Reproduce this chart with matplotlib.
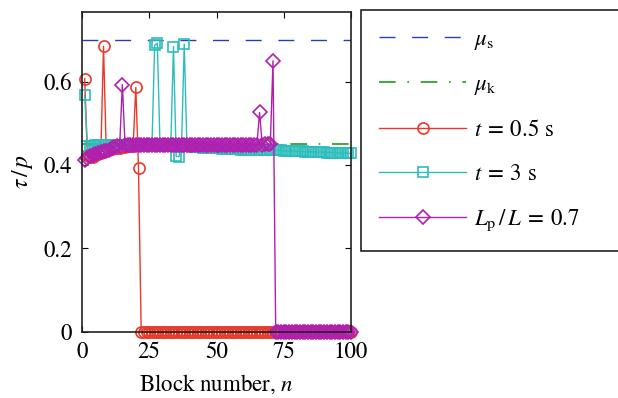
import numpy as np
import matplotlib
matplotlib.use('Agg')
import matplotlib.pyplot as plt

plt.rcParams['font.family'] = ['STIXGeneral', 'DejaVu Serif']
plt.rcParams['mathtext.fontset'] = 'stix'

# ---- data ----
blocks = np.arange(1, 101)
mu_s = 0.70
mu_k = 0.45

# t = 0.5 s : slides to zero from block 22 on
t05 = [0.607, 0.425, 0.420, 0.420, 0.423, 0.427, 0.430, 0.685, 0.434, 0.436,
       0.438, 0.440, 0.441, 0.442, 0.443, 0.444, 0.445, 0.445, 0.446, 0.586,
       0.393] + [0.0] * 79

# t = 3 s
t3 = [0.567, 0.445, 0.446, 0.446, 0.447, 0.447, 0.447, 0.447, 0.447, 0.447,
      0.447, 0.447, 0.447, 0.447, 0.447, 0.447, 0.447, 0.447, 0.447, 0.447,
      0.447, 0.447, 0.447, 0.447, 0.447, 0.447, 0.687, 0.692, 0.446, 0.446,
      0.446, 0.446, 0.446, 0.684, 0.421, 0.420, 0.446, 0.690, 0.445, 0.445,
      0.444, 0.444, 0.443, 0.443, 0.442, 0.442, 0.441, 0.441, 0.440, 0.440,
      0.440, 0.439, 0.439, 0.439, 0.438, 0.438, 0.438, 0.438, 0.437, 0.437,
      0.437, 0.437, 0.437, 0.437, 0.436, 0.436, 0.436, 0.436, 0.436, 0.436,
      0.436, 0.435, 0.435, 0.435, 0.434, 0.434, 0.434, 0.434, 0.433, 0.433,
      0.433, 0.433, 0.432, 0.432, 0.432, 0.432, 0.431, 0.431, 0.431, 0.431,
      0.430, 0.430, 0.430, 0.430, 0.429, 0.429, 0.429, 0.429, 0.428, 0.428]

# L_p / L = 0.7 : slides to zero from block 72 on
lp07 = [0.412, 0.418, 0.422, 0.425, 0.427, 0.430, 0.432, 0.433, 0.434, 0.436,
        0.440, 0.443, 0.445, 0.446, 0.593, 0.447, 0.447, 0.447, 0.447, 0.447,
        0.447, 0.447, 0.447, 0.447, 0.447, 0.447, 0.447, 0.447, 0.447, 0.447,
        0.447, 0.447, 0.447, 0.447, 0.447, 0.447, 0.447, 0.447, 0.447, 0.447,
        0.447, 0.447, 0.447, 0.447, 0.447, 0.447, 0.447, 0.447, 0.447, 0.447,
        0.447, 0.447, 0.447, 0.447, 0.447, 0.447, 0.447, 0.447, 0.447, 0.447,
        0.447, 0.447, 0.447, 0.448, 0.448, 0.526, 0.449, 0.450, 0.450, 0.450,
        0.650] + [0.0] * 29

fig = plt.figure(figsize=(6.18, 3.98), dpi=100)
ax = fig.add_axes([0.1327, 0.166, 0.4353, 0.804])

h1, = ax.plot([0, 100], [mu_s, mu_s], color='#2a3cb8', lw=1,
              ls=(0, (11.5, 12)))
h2, = ax.plot([0, 100], [mu_k, mu_k], color='#1f9a1f', lw=1.2,
              ls=(0, (10, 7, 1, 7)))
h3, = ax.plot(blocks, t05, color='#e8392b', lw=1, marker='o', ms=8,
              mfc='none', mew=1.2, clip_on=False)
h4, = ax.plot(blocks, t3, color='#2ebdbd', lw=1, marker='s', ms=7,
              mfc='none', mew=1.2, clip_on=False)
h5, = ax.plot(blocks, lp07, color='#b01fb0', lw=1, marker='D', ms=7,
              mfc='none', mew=1.2, clip_on=False)

ax.set_xlim(0, 100)
ax.set_ylim(0, 0.767)
ax.set_xticks([0, 25, 50, 75, 100])
ax.set_yticks([0, 0.2, 0.4, 0.6])
ax.set_yticklabels(['0', '0.2', '0.4', '0.6'])
ax.tick_params(direction='in', top=True, right=True, length=4, labelsize=16.5,
               pad=7)
for s in ax.spines.values():
    s.set_linewidth(1.2)
    s.set_color('#222222')
ax.set_xlabel('Block number, $n$', fontsize=16.5, labelpad=7)
ax.set_ylabel(r'$\tau\,/\,p$', fontsize=17, labelpad=6)

labels = [r'$\mu_{\rm s}$', r'$\mu_{\rm k}$', r'$t\:=\:0.5$ s',
          r'$t\:=\:3$ s', r'$L_{\rm p}\,/\,L\:=\:0.7$']
leg = fig.legend([h1, h2, h3, h4, h5], labels, loc='upper left',
                 bbox_to_anchor=(0.584, 0.975, 0.5, 0.0), mode='expand',
                 borderaxespad=0, fontsize=16.5, numpoints=1, handlelength=3.8,
                 handletextpad=0.35, labelspacing=0.98, borderpad=0.8,
                 fancybox=False, framealpha=1, edgecolor='#222222')
leg.get_frame().set_linewidth(1.2)

fig.savefig('out.png', dpi=100)
